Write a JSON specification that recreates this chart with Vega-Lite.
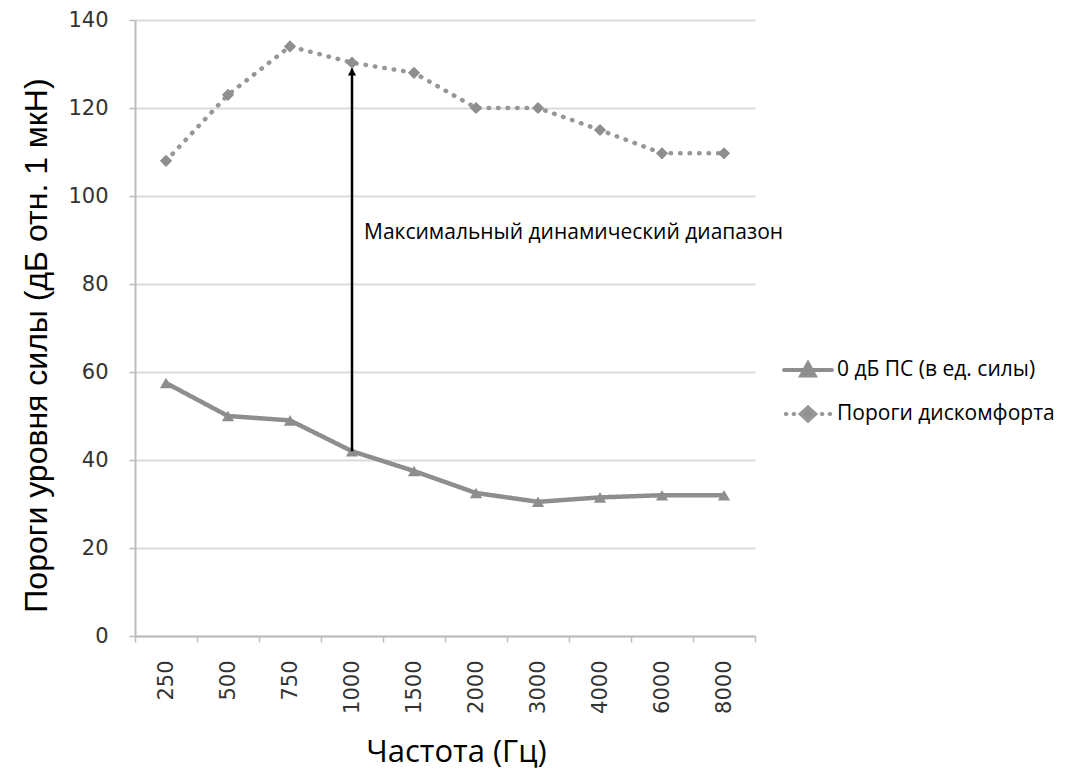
{
  "$schema": "https://vega.github.io/schema/vega-lite/v6.json",
  "autosize": "none",
  "width": 620,
  "height": 616,
  "padding": {"left": 135, "top": 20, "right": 320, "bottom": 133},
  "background": "white",
  "datasets": {
    "series": [
      {"freq": "250", "series": "0 дБ ПС (в ед. силы)", "value": 57.5},
      {"freq": "500", "series": "0 дБ ПС (в ед. силы)", "value": 50},
      {"freq": "750", "series": "0 дБ ПС (в ед. силы)", "value": 49},
      {"freq": "1000", "series": "0 дБ ПС (в ед. силы)", "value": 42},
      {"freq": "1500", "series": "0 дБ ПС (в ед. силы)", "value": 37.5},
      {"freq": "2000", "series": "0 дБ ПС (в ед. силы)", "value": 32.5},
      {"freq": "3000", "series": "0 дБ ПС (в ед. силы)", "value": 30.5},
      {"freq": "4000", "series": "0 дБ ПС (в ед. силы)", "value": 31.5},
      {"freq": "6000", "series": "0 дБ ПС (в ед. силы)", "value": 32},
      {"freq": "8000", "series": "0 дБ ПС (в ед. силы)", "value": 32},
      {"freq": "250", "series": "Пороги дискомфорта", "value": 108},
      {"freq": "500", "series": "Пороги дискомфорта", "value": 123},
      {"freq": "750", "series": "Пороги дискомфорта", "value": 134},
      {"freq": "1000", "series": "Пороги дискомфорта", "value": 130.3},
      {"freq": "1500", "series": "Пороги дискомфорта", "value": 128},
      {"freq": "2000", "series": "Пороги дискомфорта", "value": 120},
      {"freq": "3000", "series": "Пороги дискомфорта", "value": 120},
      {"freq": "4000", "series": "Пороги дискомфорта", "value": 115},
      {"freq": "6000", "series": "Пороги дискомфорта", "value": 109.7},
      {"freq": "8000", "series": "Пороги дискомфорта", "value": 109.7}
    ],
    "arrow": [
      {"freq": "1000", "lo": 42, "hi": 129, "tip": 128.2, "labelY": 91.5, "label": "Максимальный динамический диапазон"}
    ]
  },
  "encoding": {
    "x": {
      "field": "freq",
      "type": "nominal",
      "sort": ["250", "500", "750", "1000", "1500", "2000", "3000", "4000", "6000", "8000"],
      "scale": {"paddingInner": 0, "paddingOuter": 0},
      "axis": {
        "title": "Частота (Гц)",
        "titleFont": "Open Sans",
        "titleFontSize": 31,
        "titleFontWeight": "normal",
        "titleColor": "#000000",
        "titleX": 321,
        "titleY": 101,
        "labelAngle": -90,
        "labelFont": "DejaVu Sans",
        "labelFontSize": 21,
        "labelColor": "#333333",
        "labelPadding": 18,
        "tickBand": "extent",
        "tickSize": 6,
        "tickColor": "#bdbdbd",
        "tickWidth": 1.5,
        "domainColor": "#bdbdbd",
        "domainWidth": 2,
        "grid": false
      }
    }
  },
  "layer": [
    {
      "data": {"name": "series"},
      "mark": {"type": "line", "strokeCap": "round", "strokeJoin": "round", "strokeWidth": 4.5},
      "encoding": {
        "y": {
          "field": "value",
          "type": "quantitative",
          "scale": {"domain": [0, 140]},
          "axis": {
            "title": "Пороги уровня силы (дБ отн. 1 мкН)",
            "titleFont": "Liberation Sans",
            "titleFontSize": 32,
            "titleFontWeight": "normal",
            "titleColor": "#000000",
            "titlePadding": 14,
            "titleY": 325,
            "values": [0, 20, 40, 60, 80, 100, 120, 140],
            "labelFont": "DejaVu Sans",
            "labelFontSize": 21,
            "labelColor": "#333333",
            "labelPadding": 21,
            "tickSize": 6,
            "tickColor": "#bdbdbd",
            "tickWidth": 1.5,
            "domainColor": "#bdbdbd",
            "domainWidth": 2,
            "grid": true,
            "gridColor": "#dcdcdc",
            "gridWidth": 2
          }
        },
        "color": {
          "field": "series",
          "type": "nominal",
          "scale": {"domain": ["0 дБ ПС (в ед. силы)", "Пороги дискомфорта"], "range": ["#8e8e8e", "#979797"]},
          "legend": {
            "title": null,
            "orient": "none",
            "legendX": 659,
            "legendY": 336,
            "labelFont": "Open Sans",
            "labelFontSize": 21,
            "labelColor": "#000000",
            "labelLimit": 400,
            "rowPadding": 15,
            "symbolSize": 576,
            "labelOffset": 15,
            "encode": {
              "symbols": {
                "update": {
                  "shape": [
                    {"test": "datum.value === '0 дБ ПС (в ед. силы)'", "value": "M-2,0L2,0M-0.55,0.45L0,-0.55L0.55,0.45Z"},
                    {"value": "M-1.85,0L-1.8,0M-1.2,0L-1.15,0M1.15,0L1.2,0M1.8,0L1.85,0M0,-0.55L0.6,0L0,0.55L-0.6,0Z"}
                  ],
                  "fill": {"value": "#929292"},
                  "stroke": {"value": "#929292"},
                  "strokeWidth": {"value": 4},
                  "strokeCap": {"value": "round"},
                  "opacity": {"value": 1}
                }
              }
            }
          }
        },
        "strokeDash": {
          "condition": {"test": "datum.series === 'Пороги дискомфорта'", "value": [0.5, 9]},
          "value": [1, 0]
        }
      }
    },
    {
      "data": {"name": "series"},
      "mark": {"type": "point", "filled": true, "opacity": 1, "color": "#8e8e8e", "size": 150},
      "encoding": {
        "y": {"field": "value", "type": "quantitative"},
        "shape": {
          "condition": {"test": "datum.series === 'Пороги дискомфорта'", "value": "diamond"},
          "value": "triangle-up"
        }
      }
    },
    {
      "data": {"name": "arrow"},
      "mark": {"type": "rule", "color": "#000000", "strokeWidth": 2.5},
      "encoding": {
        "y": {"field": "lo", "type": "quantitative"},
        "y2": {"field": "hi"}
      }
    },
    {
      "data": {"name": "arrow"},
      "mark": {"type": "point", "shape": "triangle-up", "filled": true, "color": "#000000", "opacity": 1, "size": 70},
      "encoding": {
        "y": {"field": "tip", "type": "quantitative"}
      }
    },
    {
      "data": {"name": "arrow"},
      "mark": {"type": "text", "align": "left", "baseline": "middle", "dx": 12, "font": "Open Sans", "fontSize": 21, "color": "#000000"},
      "encoding": {
        "y": {"field": "labelY", "type": "quantitative"},
        "text": {"field": "label"}
      }
    }
  ],
  "config": {
    "view": {"stroke": null}
  }
}
